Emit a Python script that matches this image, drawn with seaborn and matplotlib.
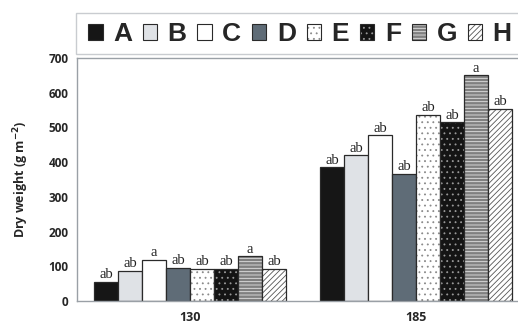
import matplotlib
matplotlib.use("Agg")
import matplotlib.pyplot as plt
from matplotlib.patches import Patch, Rectangle
from matplotlib.colors import to_rgba
import seaborn as sns
import pandas as pd

# Data: dry weight per treatment at two sampling points
groups = ["130", "185"]
treatments = ["A", "B", "C", "D", "E", "F", "G", "H"]
values_130 = [55, 86, 118, 96, 92, 92, 129, 93]
values_185 = [385, 420, 477, 366, 537, 515, 650, 553]
letters_130 = ["ab", "ab", "a", "ab", "ab", "ab", "a", "ab"]
letters_185 = ["ab", "ab", "ab", "ab", "ab", "ab", "a", "ab"]
y_ticks = [0, 100, 200, 300, 400, 500, 600, 700]

df = pd.DataFrame({
    "group": [groups[0]] * len(treatments) + [groups[1]] * len(treatments),
    "treatment": treatments * 2,
    "value": values_130 + values_185,
})
letters = {t: (letters_130[i], letters_185[i]) for i, t in enumerate(treatments)}

# fill, hatch, hatch colour for each treatment
styles = {
    "A": ("#161616", "", None),
    "B": ("#dfe2e6", "", None),
    "C": ("#ffffff", "", None),
    "D": ("#5f6c77", "", None),
    "E": ("#ffffff", "...", "#8a8a8a"),
    "F": ("#141414", "...", "#9a9a9a"),
    "G": ("#808080", "-----", "#e4e4e4"),
    "H": ("#ffffff", "//////", "#555555"),
}
edge = "#2a2a2a"

sns.set_style("white")
plt.rcParams["font.family"] = ["Open Sans", "DejaVu Sans"]
plt.rcParams["hatch.linewidth"] = 0.6

fig = plt.figure(figsize=(5.18, 3.23), dpi=100)
ax = fig.add_axes([77 / 518, 1 - 301 / 323, 452 / 518, 243 / 323])

palette = {t: styles[t][0] for t in treatments}
sns.barplot(data=df, x="group", y="value", hue="treatment", hue_order=treatments,
            order=groups, palette=palette, width=0.85, gap=0, dodge=True,
            edgecolor=edge, linewidth=0.9, legend=False, ax=ax, saturation=1)

for t, cont in zip(treatments, ax.containers):
    face, hatch, hcol = styles[t]
    for bar in cont:
        bar.set_hatch(hatch)
        if hcol:
            bar._hatch_color = to_rgba(hcol)
    ax.bar_label(cont, labels=list(letters[t]), padding=0.5, fontsize=10.5,
                 family="Liberation Serif", color="#222222")

ax.set_xlim(-0.5, 1.5)
ax.set_ylim(0, 700)
ax.set_yticks(y_ticks)
ax.set_yticklabels([str(v) for v in y_ticks], fontweight="bold", fontsize=8.5)
ax.set_xticks([0, 1])
ax.set_xticklabels(groups, fontweight="bold", fontsize=9)
ax.set_xticks([0.5], minor=True)
ax.tick_params(axis="x", which="major", length=0, pad=7)
ax.tick_params(axis="x", which="minor", length=4, color="#999999", width=0.8)
ax.tick_params(axis="y", length=3, color="#888888", width=0.8, pad=3)
ax.set_xlabel("")
ax.set_ylabel("Dry weight (g m$^{\\mathbf{-2}}$)", fontweight="bold", fontsize=9, labelpad=13)
for side in ["left", "bottom", "top", "right"]:
    ax.spines[side].set_color("#9aa0a6")
    ax.spines[side].set_linewidth(1.0)

# Legend strip across the top
fig.patches.append(Rectangle((76 / 518, 1 - 54 / 323), 0.9, 41 / 323,
                             transform=fig.transFigure, facecolor="white",
                             edgecolor="#c9ccd0", linewidth=1.0))
handles = []
for t in treatments:
    face, hatch, hcol = styles[t]
    p = Patch(facecolor=face, edgecolor=edge, hatch=hatch, linewidth=0.8, label=t)
    if hcol:
        p._hatch_color = to_rgba(hcol)
    handles.append(p)
fig.legend(handles=handles, loc="center left", bbox_to_anchor=(88 / 518, 1 - 34 / 323),
           ncol=8, frameon=False, borderpad=0, borderaxespad=0,
           handlelength=0.55, handleheight=0.55,
           handletextpad=0.4, columnspacing=0.4,
           prop={"family": "Liberation Sans", "weight": "bold", "size": 19})

fig.savefig("out.png", dpi=100)
